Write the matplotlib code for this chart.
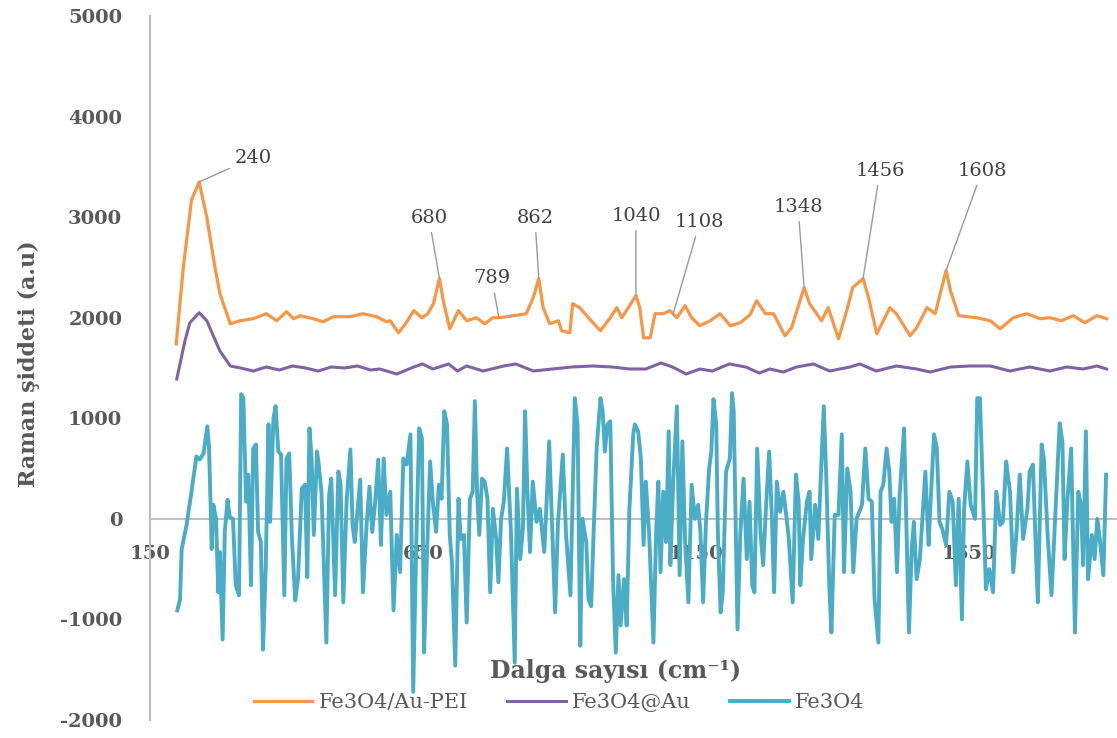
import numpy as np
import matplotlib
matplotlib.use("Agg")
import matplotlib.pyplot as plt

plt.rcParams["axes.unicode_minus"] = False

# Raman spectra (turning points)
orange_x = [198, 211, 226, 240, 254, 269, 278, 297, 315, 339, 363, 382, 400, 413, 425,
            449, 467, 486, 517, 540, 565, 583, 590, 605, 618, 633, 648, 659, 669, 680,
            687, 699, 715, 730, 748, 763, 778, 789, 816, 839, 852, 862, 870, 882, 898,
            904, 919, 924, 937, 953, 975, 993, 1005, 1014, 1026, 1040, 1047, 1054, 1066,
            1075, 1090, 1102, 1115, 1130, 1142, 1157, 1176, 1194, 1213, 1231, 1249, 1261,
            1277, 1292, 1313, 1325, 1348, 1358, 1380, 1392, 1411, 1426, 1437, 1456, 1466,
            1481, 1505, 1517, 1542, 1554, 1573, 1588, 1608, 1616, 1631, 1664, 1689, 1707,
            1731, 1756, 1780, 1798, 1819, 1841, 1862, 1884, 1902]
orange_y = [1740, 2500, 3170, 3350, 3000, 2500, 2240, 1940, 1970, 1990, 2040, 1970, 2060,
            1990, 2020, 1990, 1960, 2010, 2010, 2040, 2010, 1960, 1970, 1850, 1940, 2070,
            2000, 2040, 2140, 2390, 2170, 1890, 2070, 1970, 2000, 1940, 2000, 2000, 2020,
            2040, 2200, 2390, 2100, 1940, 1970, 1870, 1850, 2140, 2100, 2000, 1870, 2000,
            2100, 2000, 2100, 2220, 2100, 1800, 1800, 2040, 2040, 2070, 2000, 2120, 2000,
            1920, 1970, 2040, 1920, 1950, 2030, 2170, 2040, 2040, 1820, 1900, 2300, 2140,
            1970, 2100, 1790, 2070, 2300, 2390, 2200, 1840, 2100, 2040, 1820, 1900, 2100,
            2040, 2470, 2270, 2020, 2000, 1970, 1890, 2000, 2040, 1990, 2000, 1970, 2020,
            1950, 2020, 1990]

purple_x = [199, 214, 223, 240, 254, 278, 297, 316, 339, 363, 387, 411, 435, 458, 482,
            506, 530, 554, 571, 602, 633, 649, 668, 697, 713, 730, 760, 798, 820, 852,
            887, 923, 960, 997, 1028, 1058, 1086, 1107, 1132, 1157, 1180, 1211, 1241,
            1266, 1285, 1310, 1334, 1365, 1395, 1432, 1450, 1480, 1517, 1554, 1579, 1616,
            1652, 1689, 1725, 1761, 1798, 1829, 1859, 1884, 1902]
purple_y = [1390, 1770, 1950, 2050, 1970, 1670, 1520, 1500, 1470, 1510, 1480, 1520, 1500,
            1470, 1510, 1500, 1520, 1480, 1490, 1440, 1510, 1540, 1490, 1540, 1470, 1520,
            1470, 1520, 1540, 1470, 1490, 1510, 1520, 1510, 1490, 1490, 1550, 1510, 1440,
            1490, 1470, 1540, 1510, 1450, 1490, 1460, 1510, 1540, 1470, 1510, 1540, 1470,
            1520, 1490, 1460, 1510, 1520, 1520, 1470, 1510, 1470, 1510, 1490, 1520, 1490]

cyan_x = [200, 205, 208, 217, 226, 235, 241, 248, 255, 258, 261, 263, 266, 271, 275, 278,
          283, 287, 292, 296, 302, 307, 313, 317, 321, 326, 330, 335, 339, 344, 348, 353,
          357, 362, 367, 370, 376, 380, 385, 390, 396, 400, 405, 410, 416, 421, 428, 434,
          438, 442, 446, 450, 456, 459, 464, 473, 478, 482, 489, 495, 499, 504, 510, 517,
          521, 525, 535, 540, 547, 552, 557, 562, 568, 573, 578, 583, 590, 596, 602, 608,
          614, 620, 627, 632, 638, 643, 648, 652, 657, 663, 668, 674, 679, 684, 689, 694,
          699, 703, 709, 715, 719, 725, 730, 736, 741, 745, 749, 753, 758, 763, 768, 773,
          778, 784, 788, 793, 798, 804, 811, 818, 822, 828, 833, 837, 841, 846, 851, 858,
          864, 872, 877, 881, 886, 892, 897, 906, 912, 920, 928, 933, 938, 942, 949, 953,
          958, 962, 968, 975, 979, 983, 988, 993, 998, 1003, 1008, 1012, 1018, 1023, 1028,
          1035, 1038, 1044, 1049, 1054, 1058, 1064, 1072, 1077, 1081, 1085, 1090, 1095,
          1100, 1103, 1108, 1115, 1120, 1125, 1130, 1136, 1142, 1148, 1154, 1158, 1163,
          1168, 1174, 1178, 1182, 1187, 1190, 1195, 1199, 1205, 1212, 1216, 1219, 1226,
          1231, 1237, 1243, 1248, 1253, 1257, 1262, 1268, 1273, 1278, 1284, 1289, 1293,
          1298, 1304, 1310, 1316, 1320, 1327, 1333, 1338, 1341, 1346, 1353, 1358, 1361,
          1368, 1374, 1378, 1384, 1389, 1394, 1398, 1404, 1411, 1417, 1421, 1427, 1433,
          1438, 1444, 1454, 1460, 1466, 1472, 1477, 1484, 1488, 1493, 1499, 1504, 1508,
          1513, 1518, 1523, 1531, 1535, 1540, 1545, 1549, 1554, 1560, 1570, 1576, 1579,
          1586, 1591, 1596, 1601, 1608, 1614, 1620, 1626, 1631, 1637, 1641, 1647, 1653,
          1661, 1665, 1670, 1676, 1681, 1687, 1694, 1700, 1707, 1712, 1718, 1725, 1731,
          1737, 1743, 1749, 1757, 1761, 1767, 1773, 1776, 1783, 1787, 1794, 1801, 1808,
          1816, 1821, 1825, 1830, 1837, 1844, 1850, 1855, 1859, 1864, 1868, 1875, 1880,
          1885, 1890, 1896, 1901]
cyan_y = [-910, -800, -300, -60, 270, 620, 590, 650, 920, 720, 140, -300, 140, 0, -730,
          -330, -1200, -130, 190, 20, 0, -660, -760, 1240, 1200, 170, 440, -660, 700, 740,
          -130, -230, -1300, -460, 940, -30, 1000, 1120, 670, 640, -760, 600, 650, -200,
          -810, -600, 300, 340, -580, 900, 600, -160, 670, 540, 270, -1230, 240, 400, -760,
          470, 340, -830, 170, 690, -60, -230, 390, -730, -30, 320, -130, 140, 590, -260,
          600, 40, 270, -910, -160, -530, 600, 540, 840, -1720, -160, 900, 800, -1330,
          -400, 570, 170, -130, 340, 200, 1070, 940, -160, -430, -1460, 200, -200, -160,
          -1030, 200, 270, 1170, 270, -160, 400, 370, 200, -730, 100, -200, -630, 0, 170,
          700, -130, -1430, 300, -400, -100, 1070, 300, -330, 370, -30, 100, -330, 240,
          770, 0, -930, -60, 640, -160, -760, 1200, 940, -1260, 0, -230, -800, -870, -200,
          700, 1200, 1070, 670, 940, 970, -600, -1330, -560, -1060, -600, -1060, 100, 840,
          940, 870, 600, -260, 370, -130, -1230, -130, 370, -530, 270, -230, 870, -460,
          340, 1120, -560, 770, -230, -830, 340, 0, 140, -130, -830, -60, 500, 670, 1190,
          940, -130, -930, -730, 470, 600, 1250, 1070, -1100, -160, 400, -400, 170, -660,
          -730, 700, -130, -460, 100, 670, 0, -730, 370, 70, 270, 0, -200, -830, 440, 170,
          -660, -200, 170, 270, -400, 140, -200, 340, 1120, 340, -660, -1130, 40, 40, 840,
          -530, 500, 270, -530, 0, 140, 700, 200, 170, -800, -1230, 270, 340, 700, 470,
          -30, 200, -530, 240, 900, 0, -1130, -300, -30, -600, -400, 470, -260, 100, 840,
          700, -30, -100, -260, 270, 170, -660, 200, -1000, 100, 570, 140, 0, 1200, 1200,
          170, -700, -500, -730, 270, -60, -30, 570, 270, -530, -130, 440, -200, 100, 470,
          540, -400, -830, 740, 600, -160, -760, 40, 950, 770, -400, 170, 700, -1130, 270,
          140, -460, 870, -600, -160, -400, 0, -230, -560, 440]

series_names = ["Fe3O4/Au-PEI", "Fe3O4@Au", "Fe3O4"]
series_colors = ["#F79646", "#8064A2", "#4BACC6"]

peak_labels = [240, 680, 789, 862, 1040, 1108, 1348, 1456, 1608]
label_pos = [(339, 3590), (661, 2990), (776, 2390), (855, 2990), (1040, 3010),
             (1157, 2950), (1337, 3100), (1487, 3460), (1674, 3460)]

serif = "DejaVu Serif"
grey_txt = "#595959"

fig = plt.figure(figsize=(11.17, 7.38), dpi=100)
ax = fig.add_axes([150 / 1117, 18 / 738, 967 / 1117, 704 / 738])

ax.plot(orange_x, orange_y, color=series_colors[0], lw=2.3, label=series_names[0], zorder=3)
ax.plot(purple_x, purple_y, color=series_colors[1], lw=2.2, label=series_names[1], zorder=3)
ax.plot(cyan_x, cyan_y, color=series_colors[2], lw=2.8, label=series_names[2], zorder=2)

for lab, (tx, ty) in zip(peak_labels, label_pos):
    py = np.interp(lab, orange_x, orange_y)
    ax.annotate(str(lab), xy=(lab, py), xytext=(tx, ty), ha="center", va="center",
                fontsize=14, family=serif, color="#404040",
                arrowprops=dict(arrowstyle="-", color="#9A9A9A", lw=1.0,
                                shrinkA=2, shrinkB=0), zorder=5)

ax.set_xlim(150, 1921)
ax.set_ylim(-2000, 5000)
ax.set_xticks([150, 650, 1150, 1650])
ax.set_yticks(range(-2000, 5001, 1000))

for s in ["top", "right"]:
    ax.spines[s].set_visible(False)
ax.spines["bottom"].set_position(("data", 0))
ax.spines["bottom"].set_color("#BFBFBF")
ax.spines["left"].set_color("#BFBFBF")
ax.spines["bottom"].set_linewidth(1.5)
ax.spines["left"].set_linewidth(1.5)
ax.spines["bottom"].set_zorder(1)

ax.tick_params(axis="y", length=0, pad=20)
ax.tick_params(axis="x", length=0, pad=19)
for t in ax.get_xticklabels() + ax.get_yticklabels():
    t.set_fontfamily(serif)
    t.set_fontweight("bold")
    t.set_fontsize(14)
    t.set_color(grey_txt)

fig.text(29 / 1117, 1 - 364 / 738, "Raman şiddeti (a.u)", rotation=90, ha="center",
         va="center", fontsize=16, fontweight="bold", family=serif, color=grey_txt)
fig.text(616 / 1117, 1 - 671 / 738, "Dalga sayısı (cm⁻¹)", ha="center", va="center",
         fontsize=17, fontweight="bold", family=serif, color=grey_txt, zorder=6)

leg = fig.legend(loc="center", bbox_to_anchor=(559 / 1117, 1 - 703 / 738), ncol=3,
                 frameon=False, handlelength=2.8, handletextpad=0.3, columnspacing=1.9,
                 prop={"family": serif, "size": 15})
for t in leg.get_texts():
    t.set_color(grey_txt)

fig.savefig("out.png", dpi=100)
